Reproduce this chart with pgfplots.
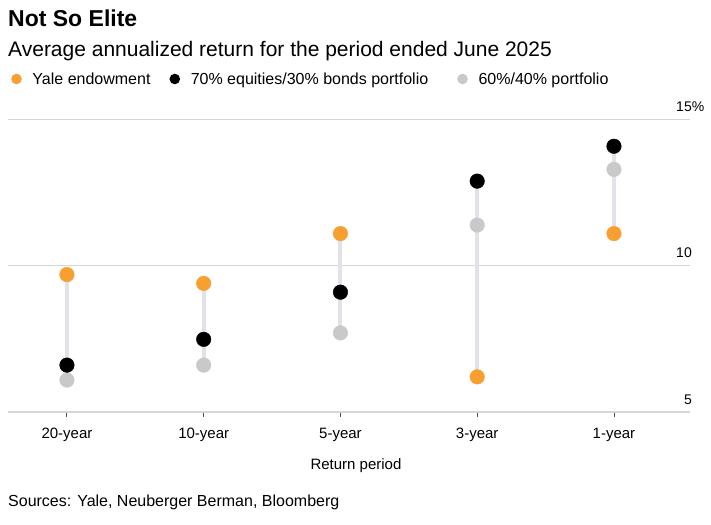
\documentclass[border=0pt]{standalone}
\usepackage{fontspec}
\setmainfont{Liberation Sans}
\usepackage{pgfplots}
\pgfplotsset{compat=1.18}

\definecolor{yale}{HTML}{F7A031}
\definecolor{bal}{HTML}{C9C9C9}
\definecolor{stem}{HTML}{E2E2EA}
\definecolor{gridc}{HTML}{D6D6D6}

\begin{document}
\begin{tikzpicture}
\path[use as bounding box] (0,0) rectangle (711bp,-525bp);

\node[anchor=base west, inner sep=0pt, font=\fontsize{23bp}{27bp}\selectfont\bfseries] at (8bp,-26bp) {Not So Elite};
\node[anchor=base west, inner sep=0pt, font=\fontsize{21bp}{25bp}\selectfont] at (8bp,-56bp) {Average annualized return for the period ended June 2025};

\begin{axis}[
    at={(8bp,-412bp)}, anchor=south west,
    scale only axis, width=682bp, height=293bp,
    xmin=-0.431, xmax=4.556, ymin=5, ymax=15,
    clip=false,
    axis x line*=bottom, axis y line*=right,
    y axis line style={draw=none},
    x axis line style={draw=gridc, line width=1.3bp},
    ymajorgrids, grid style={draw=gridc, line width=1bp},
    xtick={0,1,2,3,4},
    xticklabels={20-year,10-year,5-year,3-year,1-year},
    ytick={5,10,15},
    yticklabels={5,10,15\rlap{\%}},
    ytick style={draw=none},
    xtick style={draw=black!70, line width=0.9bp},
    tick align=outside, major tick length=5bp,
    xticklabel style={font=\fontsize{15bp}{18bp}\selectfont, anchor=base, inner sep=0pt, yshift=-21bp},
    yticklabel style={font=\fontsize{14bp}{17bp}\selectfont, anchor=base east, inner sep=0pt, yshift=7.6bp, xshift=-3bp},
    legend image code/.code={\fill[#1, draw=none] (5.3bp,0bp) circle (5.3bp);},
    legend style={at={(axis description cs:0,1.1365)}, anchor=west, draw=none, fill=none,
        legend columns=3, font=\fontsize{16bp}{19bp}\selectfont,
        nodes={inner sep=0pt}, column sep=0pt},
]
% stems between the lowest and highest value of each period
\addplot[stem, line width=4bp, forget plot] coordinates {(0,6.09) (0,9.69)};
\addplot[stem, line width=4bp, forget plot] coordinates {(1,6.60) (1,9.39)};
\addplot[stem, line width=4bp, forget plot] coordinates {(2,7.70) (2,11.09)};
\addplot[stem, line width=4bp, forget plot] coordinates {(3,6.20) (3,12.88)};
\addplot[stem, line width=4bp, forget plot] coordinates {(4,11.09) (4,14.07)};

% 60/40 portfolio
\addplot[bal, only marks, mark=*, mark size=7.3bp, mark options={draw=none, fill=bal}, forget plot]
    coordinates {(0,6.09) (1,6.60) (2,7.70) (3,11.38) (4,13.28)};
% 70/30 portfolio
\addplot[black, only marks, mark=*, mark size=7.3bp, mark options={draw=none, fill=black}, forget plot]
    coordinates {(0,6.60) (1,7.48) (2,9.09) (3,12.88) (4,14.07)};
% Yale endowment
\addplot[yale, only marks, mark=*, mark size=7.3bp, mark options={draw=none, fill=yale}, forget plot]
    coordinates {(0,9.69) (1,9.39) (2,11.09) (3,6.20) (4,11.09)};

\addlegendimage{fill=yale}
\addlegendentry{\kern10.7bp Yale endowment\kern19bp}
\addlegendimage{fill=black}
\addlegendentry{\kern10.7bp 70\% equities/30\% bonds portfolio\kern29bp}
\addlegendimage{fill=bal}
\addlegendentry{\kern10.7bp 60\%/40\% portfolio}
\end{axis}

\node[anchor=base, inner sep=0pt, font=\fontsize{15bp}{18bp}\selectfont] at (356bp,-469bp) {Return period};
\node[anchor=base west, inner sep=0pt, font=\fontsize{16bp}{19bp}\selectfont] at (8bp,-506.7bp) {Sources: Yale, Neuberger Berman, Bloomberg};
\end{tikzpicture}
\end{document}
